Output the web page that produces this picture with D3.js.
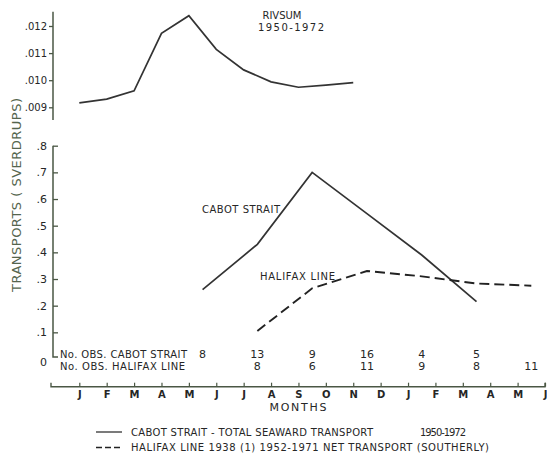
<!DOCTYPE html>
<html>
<head>
<meta charset="utf-8">
<script src="https://cdn.jsdelivr.net/npm/d3@7"></script>
<style>
  body { margin: 0; background: #fff; }
  text { font-family: "DejaVu Sans", sans-serif; fill: #262626; }
</style>
</head>
<body>
<div id="chart"></div>
<script>
// month labels along the bottom (index 0 = first J)
const monthLabels = ["J","F","M","A","M","J","J","A","S","O","N","D","J","F","M","A","M","J"];

// RIVSUM, monthly Jan..Nov
const rivsumMonths = [0,1,2,3,4,5,6,7,8,9,10];
const rivsumValues = [0.00916,0.0093,0.00961,0.01173,0.01238,0.01114,0.01038,0.00994,0.00974,0.00982,0.00991];

// Cabot Strait, bi-monthly (mid-month positions)
const cabotMonths = [4.5,6.5,8.5,10.5,12.5,14.5];
const cabotValues = [0.26,0.43,0.70,0.545,0.39,0.215];
const cabotObs = [8,13,9,16,4,5];

// Halifax line
const halifaxMonths = [6.5,8.5,10.5,12.5,14.5,16.5];
const halifaxValues = [0.105,0.265,0.33,0.31,0.283,0.275];
const halifaxObs = [8,6,11,9,8,11];

const topTicks = [0.009,0.010,0.011,0.012];
const bottomTicks = [0,0.1,0.2,0.3,0.4,0.5,0.6,0.7,0.8];

const W = 547, H = 458;
const axisColor = "#4a5744";
const lineColor = "#333";

const svg = d3.select("#chart").append("svg")
  .attr("width", W).attr("height", H);

const x = d3.scaleLinear().domain([0, 17]).range([79.3, 545]);
const yTop = d3.scaleLinear().domain([0.009, 0.012]).range([107.3, 26]);
const yBot = d3.scaleLinear().domain([0, 0.8]).range([359, 145.7]);
const axisX = 53;

// ---- upper panel (RIVSUM)
const topAxis = svg.append("g")
  .attr("transform", `translate(${axisX},0)`)
  .call(d3.axisLeft(yTop).tickValues(topTicks).tickSize(4).tickPadding(2)
    .tickFormat(d => d3.format(".3f")(d).replace(/^0/, "")));
topAxis.select(".domain").remove();
topAxis.selectAll("line").attr("stroke", axisColor).attr("stroke-width", 1.3);
topAxis.selectAll("text").style("font-size", "10px").attr("fill", "#262626");
svg.append("line")
  .attr("x1", axisX).attr("x2", axisX)
  .attr("y1", yTop(0.01253)).attr("y2", yTop(0.00853))
  .attr("stroke", axisColor).attr("stroke-width", 1.5);

const line = (xs, ys, yScale) => d3.line()
  .x((d, i) => x(xs[i]))
  .y(d => yScale(d))(ys);

svg.append("path")
  .attr("d", line(rivsumMonths, rivsumValues, yTop))
  .attr("fill", "none").attr("stroke", lineColor).attr("stroke-width", 1.7);

svg.append("text").attr("x", 282).attr("y", 19).attr("text-anchor", "middle")
  .style("font-size", "10px").text("RIVSUM");
svg.append("text").attr("x", 291).attr("y", 31).attr("text-anchor", "middle")
  .style("font-size", "10px").attr("textLength", 66).text("1950-1972");

// ---- lower panel (transports)
const botAxis = svg.append("g")
  .attr("transform", `translate(${axisX},0)`)
  .call(d3.axisLeft(yBot).tickValues(bottomTicks).tickSizeInner(-5).tickSizeOuter(0).tickPadding(6)
    .tickFormat(d => d === 0 ? "0" : d3.format(".1f")(d).replace(/^0/, "")));
botAxis.select(".domain").remove();
botAxis.selectAll("line").attr("stroke", axisColor).attr("stroke-width", 1.3);
botAxis.selectAll("text").style("font-size", "11px").attr("fill", "#262626");
botAxis.selectAll(".tick").filter(d => d === 0).select("line").remove();
botAxis.selectAll(".tick").filter(d => d === 0).select("text").attr("y", 3);
svg.append("path")
  .attr("d", `M${axisX},${yBot(0.8)}V${yBot(0) - 2}H${axisX + 5}`)
  .attr("fill", "none").attr("stroke", axisColor).attr("stroke-width", 1.5);

svg.append("path")
  .attr("d", line(cabotMonths, cabotValues, yBot))
  .attr("fill", "none").attr("stroke", lineColor).attr("stroke-width", 1.7);
svg.append("path")
  .attr("d", line(halifaxMonths, halifaxValues, yBot))
  .attr("fill", "none").attr("stroke", "#222").attr("stroke-width", 1.9)
  .attr("stroke-dasharray", "10,5");

svg.append("text").attr("x", 202).attr("y", 213)
  .style("font-size", "10px").attr("textLength", 78).text("CABOT STRAIT");
svg.append("text").attr("x", 260).attr("y", 280)
  .style("font-size", "10px").attr("textLength", 75).text("HALIFAX LINE");

// observation counts
svg.append("text").attr("x", 60).attr("y", 358)
  .style("font-size", "10px").attr("textLength", 127).text("No. OBS. CABOT STRAIT");
svg.append("text").attr("x", 60).attr("y", 370)
  .style("font-size", "10px").attr("textLength", 125).text("No. OBS. HALIFAX LINE");
svg.append("g").selectAll("text").data(cabotObs).join("text")
  .attr("x", (d, i) => x(cabotMonths[i])).attr("y", 358)
  .attr("text-anchor", "middle").style("font-size", "11px").text(d => d);
svg.append("g").selectAll("text").data(halifaxObs).join("text")
  .attr("x", (d, i) => x(halifaxMonths[i])).attr("y", 370)
  .attr("text-anchor", "middle").style("font-size", "11px").text(d => d);

// ---- month axis
const monthY = 386.7;
const monthAxis = svg.append("g")
  .attr("transform", `translate(0,${monthY})`)
  .call(d3.axisBottom(x).tickValues(d3.range(monthLabels.length))
    .tickSizeInner(-4).tickSizeOuter(0).tickPadding(4)
    .tickFormat(i => monthLabels[i]));
monthAxis.select(".domain").remove();
monthAxis.selectAll("line").attr("stroke", axisColor).attr("stroke-width", 1.2);
monthAxis.selectAll("text").style("font-size", "10px").style("font-weight", "bold").attr("fill", "#333");
svg.append("path")
  .attr("d", `M51,${monthY - 4}V${monthY}H${x(17)}V${monthY - 4}`)
  .attr("fill", "none").attr("stroke", axisColor).attr("stroke-width", 1.4);

svg.append("text").attr("x", 298).attr("y", 411).attr("text-anchor", "middle")
  .style("font-size", "11px").attr("textLength", 57).text("MONTHS");

// y title
svg.append("text")
  .attr("transform", "translate(21,195) rotate(-90)")
  .attr("text-anchor", "middle")
  .style("font-size", "13px").style("fill", "#55654e")
  .attr("textLength", 194).text("TRANSPORTS ( SVERDRUPS)");

// ---- legend
svg.append("line").attr("x1", 96).attr("x2", 122).attr("y1", 432).attr("y2", 432)
  .attr("stroke", lineColor).attr("stroke-width", 1.3);
svg.append("text").attr("x", 131).attr("y", 435.5)
  .style("font-size", "10px").attr("textLength", 242).text("CABOT STRAIT - TOTAL SEAWARD TRANSPORT");
svg.append("text").attr("x", 420).attr("y", 435.5)
  .style("font-size", "10px").attr("textLength", 46).text("1950-1972");
svg.append("line").attr("x1", 96).attr("x2", 122).attr("y1", 447.5).attr("y2", 447.5)
  .attr("stroke", "#222").attr("stroke-width", 1.5).attr("stroke-dasharray", "6,3");
svg.append("text").attr("x", 131).attr("y", 451)
  .style("font-size", "10px").attr("textLength", 358)
  .text("HALIFAX LINE 1938 (1) 1952-1971 NET TRANSPORT (SOUTHERLY)");
</script>
</body>
</html>
